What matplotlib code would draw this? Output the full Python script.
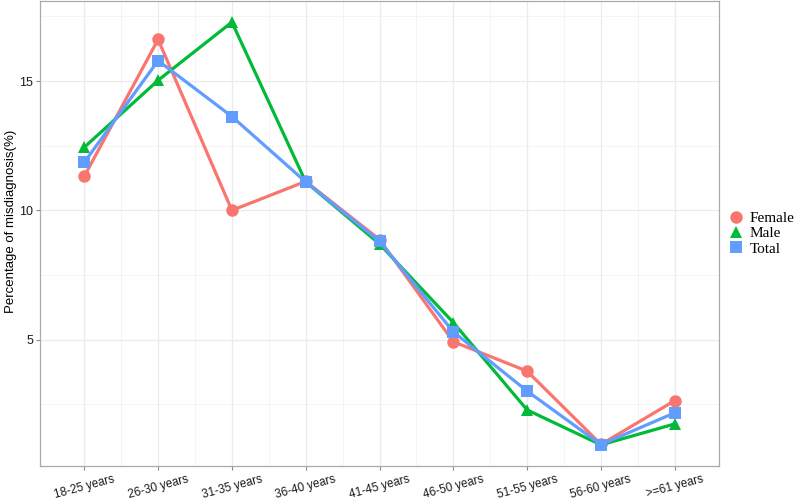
import numpy as np
import matplotlib
matplotlib.use('Agg')
import matplotlib.pyplot as plt

# data
age_groups = ['18-25 years', '26-30 years', '31-35 years', '36-40 years', '41-45 years',
              '46-50 years', '51-55 years', '56-60 years', '>=61 years']
female = [11.32, 16.61, 10.0, 11.12, 8.87, 4.92, 3.78, 0.95, 2.64]
male = [12.44, 15.03, 17.28, 11.10, 8.70, 5.66, 2.28, 0.93, 1.74]
total = [11.86, 15.79, 13.63, 11.10, 8.80, 5.30, 3.01, 0.94, 2.17]

series_names = ['Female', 'Male', 'Total']
series_colors = ['#F8766D', '#00BA38', '#619CFF']
series_markers = ['o', '^', 's']

fig = plt.figure(figsize=(7.97, 5.0), dpi=100)
ax = fig.add_axes([0.0502, 0.068, 0.852, 0.930])

x = np.arange(1, len(age_groups) + 1)
for vals, name, col, mk in zip([female, male, total], series_names, series_colors, series_markers):
    ax.plot(x, vals, color=col, lw=2.3, marker=mk, markersize=9 if mk != 's' else 8,
            markeredgewidth=0, label=name, zorder=3)

ax.set_xlim(0.4, len(age_groups) + 0.6)
dmin = min(min(female), min(male), min(total))
dmax = max(max(female), max(male), max(total))
pad = 0.05 * (dmax - dmin)
ax.set_ylim(dmin - pad, dmax + pad)

ax.set_xticks(x)
ax.set_xticklabels(age_groups, rotation=15, ha='center', fontsize=8.5,
                   family='Liberation Sans', color='#1a1a1a')
ax.set_xticks(x[:-1] + 0.5, minor=True)
ax.set_yticks([5, 10, 15])
ax.set_yticklabels(['5', '10', '15'], fontsize=9, family='Liberation Sans', color='#1a1a1a')
ax.set_yticks([2.5, 7.5, 12.5, 17.5], minor=True)

ax.grid(True, which='major', color='#ebebeb', lw=0.9)
ax.grid(True, which='minor', color='#f2f2f2', lw=0.6)
ax.set_axisbelow(True)
ax.tick_params(which='major', length=3, color='#888888', width=0.8, pad=2)
ax.tick_params(which='minor', length=0)
for sp in ax.spines.values():
    sp.set_color('#aaaaaa')
    sp.set_linewidth(0.9)

ax.set_ylabel('Percentage of misdiagnosis(%)', fontsize=9.5, family='Liberation Sans')
ax.yaxis.set_label_coords(-0.034, 0.527)

leg = ax.legend(loc='center left', bbox_to_anchor=(1.005, 0.5), frameon=False,
                prop={'family': 'Liberation Serif', 'size': 11},
                handlelength=0.8, handletextpad=0.5, labelspacing=0.1, borderpad=0)
for h in leg.legend_handles:
    h.set_linestyle('None')

fig.savefig('out.png', dpi=100)
